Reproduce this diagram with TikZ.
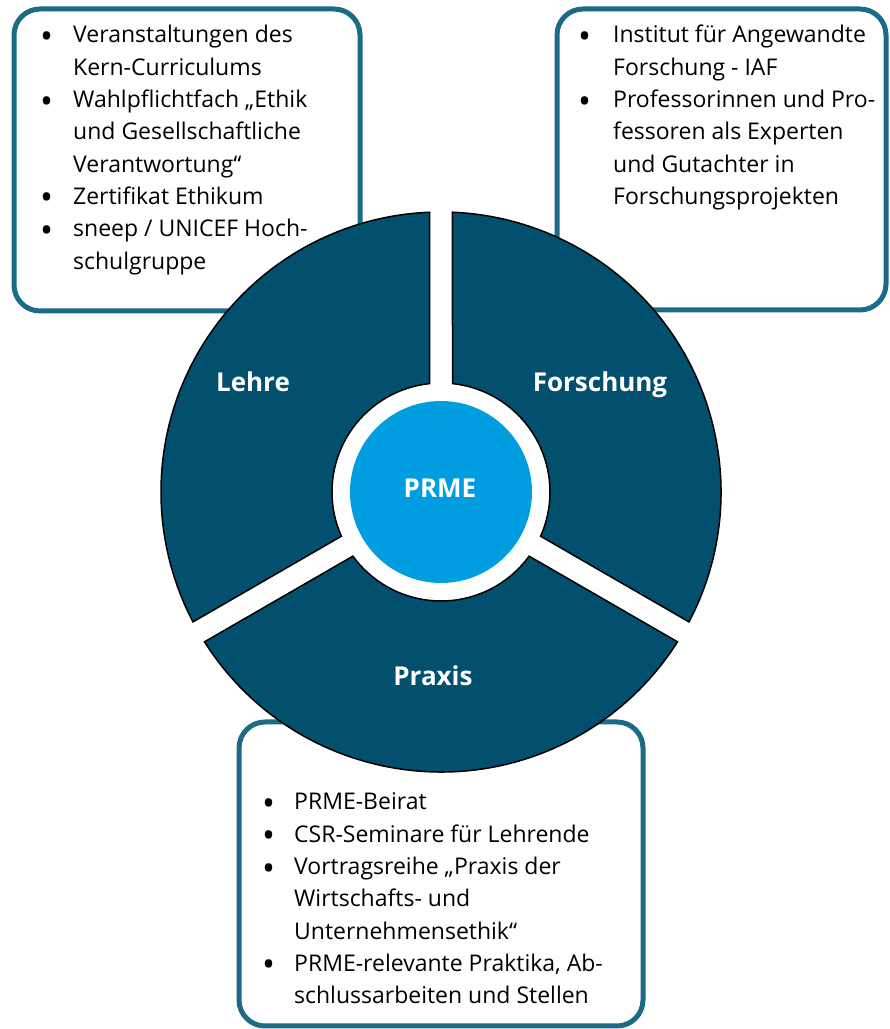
\documentclass[tikz,border=0pt]{standalone}
\usepackage{fontspec}
\setmainfont{Open Sans}
\usepackage{array}
\usetikzlibrary{positioning}

\definecolor{segteal}{HTML}{02506E}
\definecolor{frameteal}{HTML}{1C6A85}
\definecolor{prmeblue}{HTML}{009EE0}

\tikzset{
  infobox/.style={draw=frameteal, line width=5pt, rounded corners=26pt, fill=white},
  infotext/.style={anchor=base west, inner sep=0pt, font=\fontsize{23}{32.3}\selectfont},
  seglabel/.style={anchor=base, inner sep=0pt, text=white, font=\fontsize{26}{30}\selectfont\bfseries},
  segfill/.style={fill=segteal, draw=black, line width=1.5pt}
}

% bigger list bullet
\newcommand{\bul}{\smash{\raisebox{-5.5pt}{\scalebox{1.5}{\textbullet}}}}

% one ring segment between two gap directions
\newcommand{\drawsegment}[2]{%
  \path[segfill] ({#1+\dR}:\rOut) arc[start angle={#1+\dR}, end angle={#2-\dR}, radius=\rOut]
    -- ({#2-\dr}:\rIn) arc[start angle={#2-\dr}, end angle={#1+\dr}, radius=\rIn] -- cycle;}

\begin{document}
\begin{tikzpicture}[x=1pt, y=1pt]
  \useasboundingbox (0,0) rectangle (890,1029);

  % --- the three text boxes (behind the circle)
  \draw[infobox] (14,1020) rectangle (360,718);
  \draw[infobox] (557,1020) rectangle (886,719);
  \draw[infobox] (239,307) rectangle (643,3);

  \node[infotext] (lehreBox) at (40,986) {%
    \begin{tabular}[t]{@{}p{33pt}@{}l@{}}
      \bul & Veranstaltungen des\\
           & Kern-Curriculums\\
      \bul & Wahlpflichtfach „Ethik\\
           & und Gesellschaftliche\\
           & Verantwortung“\\
      \bul & Zertifikat Ethikum\\
      \bul & sneep / UNICEF Hoch-\\
           & schulgruppe
    \end{tabular}};

  \node[infotext] (forschungBox) at (578,986) {%
    \begin{tabular}[t]{@{}p{35pt}@{}l@{}}
      \bul & Institut für Angewandte\\
           & Forschung - IAF\\
      \bul & Professorinnen und Pro-\\
           & fessoren als Experten\\
           & und Gutachter in\\
           & Forschungsprojekten
    \end{tabular}};

  \node[infotext] (praxisBox) at (262,219) {%
    \begin{tabular}[t]{@{}p{32pt}@{}l@{}}
      \bul & PRME-Beirat\\
      \bul & CSR-Seminare für Lehrende\\
      \bul & Vortragsreihe „Praxis der\\
           & Wirtschafts- und\\
           & Unternehmensethik“\\
      \bul & PRME-relevante Praktika, Ab-\\
           & schlussarbeiten und Stellen
    \end{tabular}};

  % --- ring with three segments
  \begin{scope}[shift={(441,537)}]
    \def\rOut{280}
    \def\rIn{109}
    \def\gap{11.5}
    \pgfmathsetmacro{\dR}{asin(\gap/\rOut)}
    \pgfmathsetmacro{\dr}{asin(\gap/\rIn)}

    \drawsegment{90}{210}
    \drawsegment{210}{330}
    \drawsegment{-30}{90}

    % centre disc
    \fill[prmeblue] (0,0) circle (91);
  \end{scope}

  % Labels
  \node[seglabel] (lehre)     at (253,637) {Lehre};
  \node[seglabel] (forschung) at (600,637) {Forschung};
  \node[seglabel] (praxis)    at (433,343) {Praxis};
  \node[seglabel] (prme)      at (440,531) {PRME};
\end{tikzpicture}
\end{document}
